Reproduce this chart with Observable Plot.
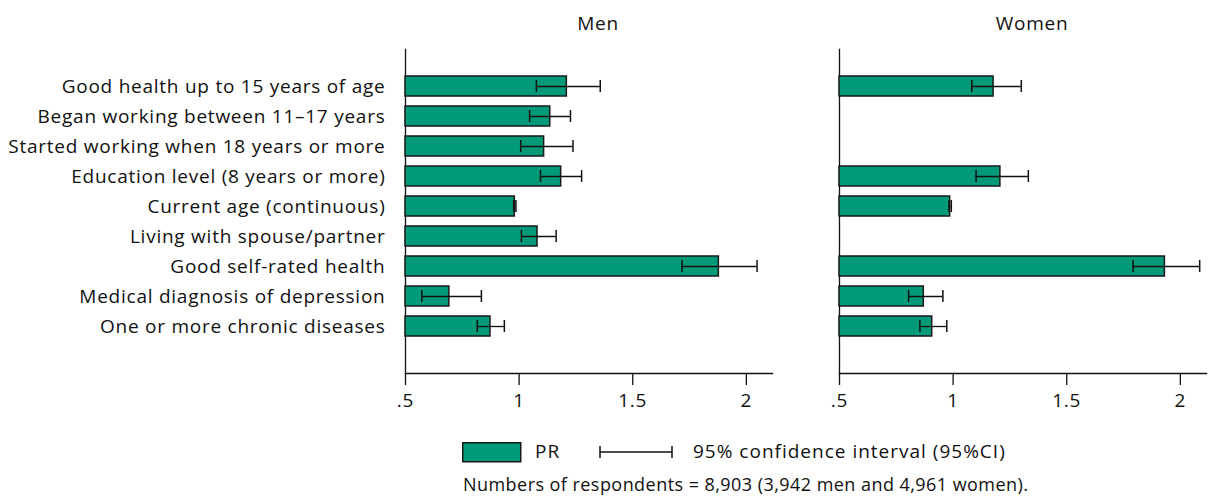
<!DOCTYPE html>
<html>
<head>
<meta charset="utf-8">
<script src="https://cdn.jsdelivr.net/npm/d3@7"></script>
<script src="https://cdn.jsdelivr.net/npm/@observablehq/plot@0.6"></script>
<style>
  html, body { margin: 0; padding: 0; background: #fff; }
  body { width: 1210px; height: 499px; position: relative; overflow: hidden; font-family: "Open Sans", sans-serif; color: #111; }
  #chart { position: absolute; left: 0; top: 0; }
  .legend { position: absolute; font-size: 19px; letter-spacing: 1px; white-space: nowrap; }
</style>
</head>
<body>
<div id="chart"></div>
<div class="legend" style="left:462px; top:442px; height:20px;">
  <svg width="60" height="21" style="position:absolute;left:0;top:0"><rect x="0.75" y="0.75" width="58" height="19" fill="#009a78" stroke="#1a1a1a" stroke-width="1.5"/></svg>
  <span style="position:absolute;left:73px;top:-4px">PR</span>
  <svg width="76" height="21" style="position:absolute;left:137px;top:0"><line x1="1" x2="73" y1="10" y2="10" stroke="#111" stroke-width="1.3"/><line x1="1" x2="1" y1="4" y2="16" stroke="#111" stroke-width="1.5"/><line x1="73" x2="73" y1="4" y2="16" stroke="#111" stroke-width="1.5"/></svg>
  <span style="position:absolute;left:231px;top:-4px">95% confidence interval (95%CI)</span>
</div>
<div class="legend" style="left:463px; top:472px; font-size:18px; letter-spacing:0.45px;">Numbers of respondents = 8,903 (3,942 men and 4,961 women).</div>
<script>
const categories = [
  "Good health up to 15 years of age",
  "Began working between 11–17 years",
  "Started working when 18 years or more",
  "Education level (8 years or more)",
  "Current age (continuous)",
  "Living with spouse/partner",
  "Good self-rated health",
  "Medical diagnosis of depression",
  "One or more chronic diseases"
];
const sexes = ["Men", "Women"];

// Men: prevalence ratio and 95% CI
const menPR   = [1.21, 1.137, 1.110, 1.185, 0.981, 1.081, 1.879, 0.693, 0.874];
const menLow  = [1.076, 1.046, 1.007, 1.094, 0.976, 1.010, 1.717, 0.572, 0.816];
const menHigh = [1.357, 1.226, 1.237, 1.275, 0.986, 1.163, 2.047, 0.834, 0.935];

// Women (null = not in model)
const womenPR   = [1.178, null, null, 1.208, 0.987, null, 1.932, 0.871, 0.908];
const womenLow  = [1.082, null, null, 1.101, 0.982, null, 1.792, 0.804, 0.854];
const womenHigh = [1.300, null, null, 1.331, 0.992, null, 2.085, 0.955, 0.972];

const baseline = 0.5;
const xTicks = [0.5, 1, 1.5, 2];
const xTickLabels = [".5", "1", "1.5", "2"];

const rows = [];
categories.forEach((c, i) => {
  rows.push({sex: "Men", cat: c, pr: menPR[i], lo: menLow[i], hi: menHigh[i]});
  if (womenPR[i] != null) rows.push({sex: "Women", cat: c, pr: womenPR[i], lo: womenLow[i], hi: womenHigh[i]});
});

const fill = "#009a78";
const font = "'Open Sans', sans-serif";
const chart = Plot.plot({
  width: 1210,
  height: 425,
  marginLeft: 405,
  marginRight: 4,
  marginTop: 49,
  marginBottom: 52,
  style: {fontFamily: font, fontSize: "19px", letterSpacing: "0.75px", color: "#111", background: "white"},
  fx: {domain: sexes, paddingInner: 67 / 434, paddingOuter: 0, label: null},
  x: {domain: [0.5, 2.115], ticks: xTicks, label: null},
  y: {domain: categories, range: [68, 343.7], paddingInner: 0.347, paddingOuter: 0.1735, label: null},
  marks: [
    Plot.frame({anchor: "left", stroke: "#111", strokeWidth: 1.3}),
    Plot.frame({anchor: "bottom", stroke: "#111", strokeWidth: 1.3}),
    Plot.barX(rows, {fx: "sex", y: "cat", x1: () => baseline, x2: "pr", fill, stroke: "#1a1a1a", strokeWidth: 1.5}),
    Plot.ruleY(rows, {fx: "sex", y: "cat", x1: "lo", x2: "hi", stroke: "#111", strokeWidth: 1.3}),
    Plot.tickX(rows, {fx: "sex", y: "cat", x: "lo", stroke: "#111", strokeWidth: 1.5, insetTop: 4, insetBottom: 4}),
    Plot.tickX(rows, {fx: "sex", y: "cat", x: "hi", stroke: "#111", strokeWidth: 1.5, insetTop: 4, insetBottom: 4}),
    Plot.axisX({ticks: xTicks, tickFormat: (d) => xTickLabels[xTicks.indexOf(d)], tickSize: 12, tickPadding: 8, strokeWidth: 1.3, fontSize: 19}),
    Plot.axisY({tickSize: 0, tickPadding: 20, fontSize: 19, facetAnchor: "left"}),
    Plot.axisFx({anchor: "top", tickSize: 0, tickPadding: 20, dx: 9, fontSize: 19, label: null})
  ]
});
document.getElementById("chart").appendChild(chart);
</script>
</body>
</html>
